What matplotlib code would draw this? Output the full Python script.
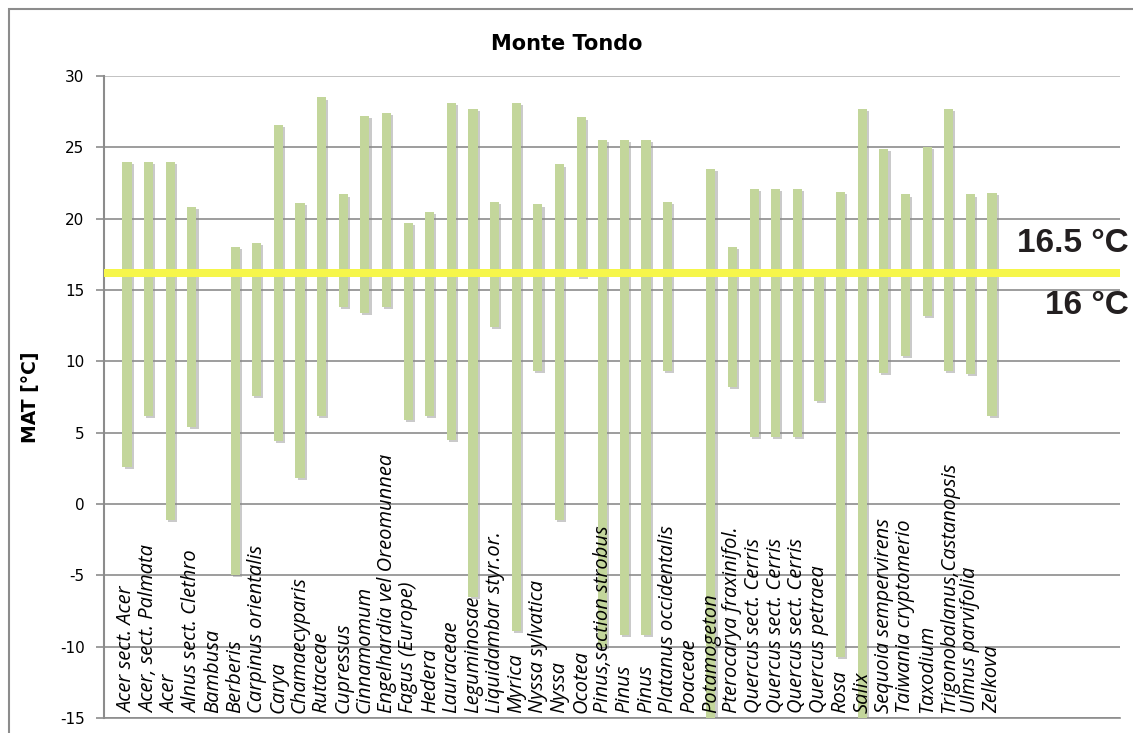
import numpy as np
import matplotlib
matplotlib.use("Agg")
import matplotlib.pyplot as plt
from matplotlib.patches import Rectangle

plt.rcParams['axes.unicode_minus'] = False

# taxa on the x axis
taxa = ['Acer sect. Acer', 'Acer, sect. Palmata', 'Acer', 'Alnus sect. Clethro',
        'Bambusa', 'Berberis', 'Carpinus orientalis', 'Carya', 'Chamaecyparis',
        'Rutaceae', 'Cupressus', 'Cinnamomum', 'Engelhardia vel Oreomunnea',
        'Fagus (Europe)', 'Hedera', 'Lauraceae', 'Leguminosae', 'Liquidambar styr.or.',
        'Myrica', 'Nyssa sylvatica', 'Nyssa', 'Ocotea', 'Pinus,section strobus',
        'Pinus', 'Pinus', 'Platanus occidentalis', 'Poaceae', 'Potamogeton',
        'Pterocarya fraxinifol.', 'Quercus sect. Cerris', 'Quercus sect. Cerris',
        'Quercus sect. Cerris', 'Quercus petraea', 'Rosa', 'Salix',
        'Sequoia sempervirens', 'Taiwania cryptomerio', 'Taxodium',
        'Trigonobalanus,Castanopsis', 'Ulmus parvifolia', 'Zelkova']

nan = np.nan
# MAT ranges (lower / upper limit, deg C)
mat_low = [2.6, 6.2, -1.1, 5.4, nan, -5.0, 7.6, 4.4, 1.8, 6.2, 13.8, 13.4, 13.8,
           5.9, 6.2, 4.5, -6.5, 12.4, -8.9, 9.3, -1.1, 15.9, -10.0, -9.2, -9.2,
           9.3, nan, -15.0, 8.2, 4.7, 4.7, 4.7, 7.2, -10.7, -15.0, 9.2, 10.4,
           13.2, 9.3, 9.1, 6.2]
mat_high = [24.0, 24.0, 24.0, 20.8, nan, 18.0, 18.3, 26.6, 21.1, 28.5, 21.7, 27.2,
            27.4, 19.7, 20.5, 28.1, 27.7, 21.2, 28.1, 21.0, 23.8, 27.1, 25.5, 25.5,
            25.5, 21.2, nan, 23.5, 18.0, 22.1, 22.1, 22.1, 16.4, 21.9, 27.7, 24.9,
            21.7, 25.0, 27.7, 21.7, 21.8]

# coexistence interval
band_low = 15.9
band_high = 16.45

def main():
    low = np.array(mat_low)
    high = np.array(mat_high)
    x = np.arange(len(taxa))

    fig = plt.figure(figsize=(11.33, 7.33), dpi=100)
    ax = fig.add_axes([104/1133, 1 - 718/733, (1120 - 104)/1133, (718 - 76)/733])

    # frame around the chart (only left and top visible in the crop)
    fig.patches.append(Rectangle((9/1133, -0.1), 1.2, 1 - 9/733 + 0.1,
                                 transform=fig.transFigure, fill=False,
                                 edgecolor='#8c8c8c', linewidth=1.5))

    # soft shadow, then the bars
    ax.bar(x + 0.1, high - low, bottom=low - 0.15, width=0.42,
           color='#8a8a8a', alpha=0.45, zorder=2, linewidth=0)
    ax.bar(x, high - low, bottom=low, width=0.42, color='#c3d69b', zorder=3,
           linewidth=0)

    ax.axhspan(band_low, band_high, color='#f6f64a', zorder=4, linewidth=0)

    for xi, name in zip(x, taxa):
        ax.text(xi, -14.65, name, rotation=90, ha='center', va='bottom',
                fontsize=14.5, style='italic', family='Open Sans', color='black',
                zorder=5)

    ax.set_xlim(-1.064, 45.92)
    ax.set_ylim(-15, 30)
    ax.set_yticks(np.arange(-15, 31, 5))
    ax.set_xticks([])
    ax.yaxis.grid(True, color='#8c8c8c', linewidth=1.2, zorder=1)
    ax.set_axisbelow(True)
    ax.get_ygridlines()[-1].set_color('#b8b8b8')
    for s in ['top', 'right']:
        ax.spines[s].set_visible(False)
    ax.spines['left'].set_color('#8c8c8c')
    ax.spines['left'].set_linewidth(1.5)
    ax.spines['bottom'].set_color('#8c8c8c')
    ax.spines['bottom'].set_linewidth(1.2)
    ax.tick_params(axis='y', length=6, width=1.2, color='#8c8c8c', labelsize=11, pad=8)

    ax.set_ylabel('MAT [°C]', fontsize=13.5, fontweight='bold')
    ax.yaxis.set_label_coords(-0.063, 0.5)
    fig.text(0.5, 1 - 44/733, 'Monte Tondo', ha='center', va='center',
             fontsize=15, fontweight='bold')

    fig.text(1129/1133, 1 - 243/733, '16.5 °C', ha='right', va='center',
             fontsize=24, fontweight='bold', family='Liberation Sans', color='#231f20')
    fig.text(1129/1133, 1 - 305/733, '16 °C', ha='right', va='center',
             fontsize=24, fontweight='bold', family='Liberation Sans', color='#231f20')

    fig.savefig('out.png', dpi=100)
    plt.close(fig)

if __name__ == "__main__":
    main()
